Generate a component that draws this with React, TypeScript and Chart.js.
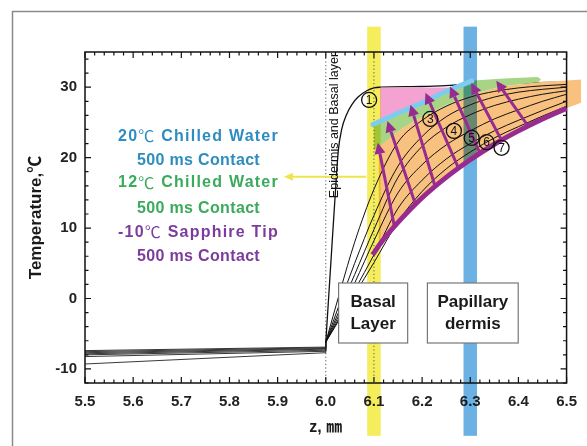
import React, { useEffect, useRef } from 'react';
import { Chart, registerables } from 'chart.js';
Chart.register(...registerables);

const FONT = "'Liberation Sans', Arial, 'Noto Sans CJK SC', sans-serif";
const CJK = "'Noto Sans CJK SC', 'Noto Sans CJK JP', sans-serif";

// ---------- axis ranges / ticks ----------
const X_MIN = 5.5, X_MAX = 6.5, Y_MIN = -12, Y_MAX = 35;
const X_STEP = 0.1, Y_STEP = 10;

// ---------- sapphire side (z < 6.0): start / end temperatures ----------
const sapphireStartT = [-7.4, -7.55, -7.7, -7.85, -8.0, -8.25, -9.3];
const sapphireEndT = [-6.9, -7.0, -7.1, -7.2, -7.35, -7.5, -7.7];
const surfaceT = -6.2;

// ---------- skin side profiles ----------
const zC1 = [6.0, 6.01, 6.02, 6.026, 6.033, 6.043, 6.055, 6.067, 6.085, 6.1, 6.115, 6.2, 6.3, 6.4, 6.5];
const tC1 = [-6.2, 4.5, 15.2, 21.0, 24.0, 26.1, 27.6, 28.6, 29.5, 29.9, 30.0, 30.1, 30.4, 30.6, 30.7];

const zFan = [6.0, 6.03, 6.06, 6.1, 6.15, 6.2, 6.25, 6.3, 6.35, 6.4, 6.45, 6.5];
const tC2 = [-6.2, 1.1, 8.0, 15.5, 22.2, 25.3, 27.3, 28.6, 29.4, 29.9, 30.2, 30.4];
const tC3 = [-6.2, -0.5, 5.0, 11.8, 18.8, 23.0, 25.8, 27.5, 28.6, 29.3, 29.7, 30.0];
const tC4 = [-6.2, -1.4, 3.4, 9.8, 17.2, 21.6, 24.3, 26.1, 27.4, 28.3, 29.0, 29.5];
const tC5 = [-6.2, -2.0, 2.2, 8.2, 15.0, 19.0, 21.8, 23.8, 25.5, 26.8, 28.0, 29.0];
const tC6 = [-6.2, -2.5, 1.2, 6.2, 12.8, 16.8, 19.8, 22.0, 23.8, 25.3, 26.7, 28.0];
const tC7 = [-6.2, -2.8, 0.6, 5.1, 10.9, 15.2, 18.4, 20.8, 22.8, 24.4, 25.9, 27.3];

// -10C sapphire tip (purple)
const zPurple = [6.097, 6.12, 6.15, 6.2, 6.25, 6.3, 6.35, 6.4, 6.45, 6.5, 6.53];
const tPurple = [6.2, 8.4, 10.8, 14.3, 17.2, 19.7, 21.9, 23.8, 25.5, 27.0, 27.8];

// 20C chilled water (light blue)
const zLightBlue = [6.098, 6.15, 6.2, 6.25, 6.303];
const tLightBlue = [24.7, 26.3, 27.8, 29.4, 30.9];

// 12C chilled water band (green)
const zGreenTop = [6.1, 6.2, 6.3, 6.37, 6.44, 6.447];
const tGreenTop = [24.6, 27.8, 30.9, 31.25, 31.45, 31.1];
const zGreenBottom = [6.1, 6.16, 6.2, 6.255, 6.3, 6.365, 6.44];
const tGreenBottom = [21.0, 24.2, 25.8, 27.6, 28.9, 30.1, 30.7];

// orange region
const zOrangeTop = [6.11, 6.16, 6.2, 6.255, 6.3, 6.365, 6.44, 6.5, 6.53];
const tOrangeTop = [21.6, 24.2, 25.8, 27.6, 28.9, 30.1, 30.7, 30.95, 31.1];
const zOrangeBottom = [6.11, 6.12, 6.15, 6.2, 6.25, 6.3, 6.35, 6.4, 6.45, 6.5, 6.53];
const tOrangeBottom = [7.4, 8.4, 10.8, 14.3, 17.2, 19.7, 21.9, 23.8, 25.5, 27.0, 27.8];

// pink triangle
const zPink = [6.113, 6.27, 6.113];
const tPink = [29.95, 29.95, 24.9];

// purple arrows
const zArrowTail = [6.142, 6.186, 6.227, 6.275, 6.319, 6.364, 6.419];
const tArrowTail = [10.4, 13.4, 15.9, 18.6, 20.8, 22.6, 24.6];
const zArrowHead = [6.108, 6.128, 6.176, 6.207, 6.258, 6.302, 6.354];
const tArrowHead = [22.1, 25.2, 27.5, 29.2, 30.1, 30.6, 30.9];

// circled curve numbers
const curveNumbers = ['1', '3', '4', '5', '6', '7'];
const zCurveNumber = [6.09, 6.217, 6.266, 6.303, 6.334, 6.365];
const tCurveNumber = [28.2, 25.5, 23.8, 22.8, 22.2, 21.4];

// ---------- annotation layout ----------
const BANDS = [
  { z0: 6.086, z1: 6.114, color: '#f4ed5c' },
  { z0: 6.286, z1: 6.314, color: '#6cb1e3' },
];
const BAND_TOP_T = 38.6, BAND_BOTTOM_T = -19.5;
const DOT_LINES_Z = [6.0, 6.1];

const NOTE_Z = 5.7357;
const NOTES = [
  { parts: ['20', '\u2103', ' Chilled Water'], color: '#2d8dc0', t: 23.05, width: 161 },
  { parts: ['500 ms Contact'], color: '#2d8dc0', t: 19.6, width: 123 },
  { parts: ['12', '\u2103', ' Chilled Water'], color: '#3aab5b', t: 16.4, width: 161 },
  { parts: ['500 ms Contact'], color: '#3aab5b', t: 12.8, width: 123 },
  { parts: ['-10', '\u2103', ' Sapphire Tip'], color: '#7b3c9e', t: 9.4, width: 161 },
  { parts: ['500 ms Contact'], color: '#7b3c9e', t: 5.95, width: 123 },
];
const BOXES = [
  { z0: 6.0266, z1: 6.170, t0: 2.2, t1: -6.32, lines: ['Basal', 'Layer'] },
  { z0: 6.211, z1: 6.3996, t0: 2.2, t1: -6.32, lines: ['Papillary', 'dermis'] },
];
const YELLOW_ARROW = { z0: 6.084, z1: 5.913, t: 17.29 };
const ROT_LABEL = { z: 6.0184, t: 24.56, text: 'Epidermis and Basal layer' };

const ORANGE = '#f9c17f', GREEN = '#a8d585', PINK = '#f3a2d2';
const LIGHT_BLUE = '#7dccef', PURPLE = '#972b8f';

function pts(zs: number[], ts: number[]) {
  return zs.map((z, i) => ({ x: z, y: ts[i] }));
}

function polygon(chart: any, zs: number[], ts: number[], zs2: number[] | null, ts2: number[] | null, color: string) {
  const { ctx, scales: { x, y } } = chart;
  ctx.beginPath();
  zs.forEach((z, i) => {
    const px = x.getPixelForValue(z), py = y.getPixelForValue(ts[i]);
    if (i === 0) ctx.moveTo(px, py); else ctx.lineTo(px, py);
  });
  if (zs2 && ts2) {
    for (let i = zs2.length - 1; i >= 0; i--) ctx.lineTo(x.getPixelForValue(zs2[i]), y.getPixelForValue(ts2[i]));
  }
  ctx.closePath();
  ctx.fillStyle = color;
  ctx.fill();
}

function drawFrame(chart: any) {
  const { ctx, chartArea: a, scales: { x, y } } = chart;
  ctx.save();
  ctx.strokeStyle = '#111';
  ctx.lineWidth = 1.5;
  ctx.strokeRect(a.left, a.top, a.right - a.left, a.bottom - a.top);
  ctx.lineWidth = 1.2;
  ctx.beginPath();
  for (let i = 0; i <= 50; i++) {
    const p = x.getPixelForValue(X_MIN + i * 0.02);
    const len = i % 5 === 0 ? 6 : 3.5;
    ctx.moveTo(p, a.bottom); ctx.lineTo(p, a.bottom - len);
    ctx.moveTo(p, a.top); ctx.lineTo(p, a.top + len);
  }
  for (let t = Y_MIN; t <= Y_MAX - 1; t += 2) {
    const p = y.getPixelForValue(t);
    const len = t % 10 === 0 ? 6 : 3.5;
    ctx.moveTo(a.left, p); ctx.lineTo(a.left + len, p);
    ctx.moveTo(a.right, p); ctx.lineTo(a.right - len, p);
  }
  ctx.stroke();
  ctx.restore();
}

function partFont(part: string) {
  return part === '\u2103' ? `16px ${CJK}` : `bold 16px ${FONT}`;
}

function drawNote(ctx: any, note: any, cx: number, cy: number) {
  ctx.letterSpacing = '0px';
  let w0 = 0, n = 0;
  note.parts.forEach((p: string) => {
    ctx.font = partFont(p);
    w0 += ctx.measureText(p).width;
    n += p.length;
  });
  const ls = Math.max(0, (note.width - w0) / n);
  let x = cx - note.width / 2;
  ctx.textAlign = 'left';
  ctx.fillStyle = note.color;
  note.parts.forEach((p: string) => {
    ctx.font = partFont(p);
    ctx.letterSpacing = '0px';
    const w = ctx.measureText(p).width;
    ctx.letterSpacing = ls.toFixed(2) + 'px';
    ctx.fillText(p, x, cy);
    x += w + ls * p.length;
  });
  ctx.letterSpacing = '0px';
  ctx.textAlign = 'center';
}

const figurePlugin = {
  id: 'figure',
  beforeDraw(chart: any) {
    const { ctx, width, height } = chart;
    ctx.save();
    ctx.fillStyle = '#fff';
    ctx.fillRect(0, 0, width, height);
    ctx.strokeStyle = '#8a8a8a';
    ctx.lineWidth = 1.5;
    ctx.beginPath();
    ctx.moveTo(12.5, height); ctx.lineTo(12.5, 11.5); ctx.lineTo(width, 11.5);
    ctx.stroke();
    ctx.restore();
  },
  beforeDatasetDraw(chart: any, args: any) {
    if (chart.data.datasets[args.index].label !== 'c2') return;
    const { ctx, scales: { x, y } } = chart;
    ctx.save();
    polygon(chart, zOrangeTop, tOrangeTop, zOrangeBottom, tOrangeBottom, ORANGE);
    polygon(chart, zGreenTop, tGreenTop, zGreenBottom, tGreenBottom, GREEN);
    polygon(chart, zPink, tPink, null, null, PINK);
    ctx.globalCompositeOperation = 'multiply';
    BANDS.forEach((b) => {
      const x0 = x.getPixelForValue(b.z0), x1 = x.getPixelForValue(b.z1);
      const y0 = y.getPixelForValue(BAND_TOP_T), y1 = y.getPixelForValue(BAND_BOTTOM_T);
      ctx.fillStyle = b.color;
      ctx.fillRect(x0, y0, x1 - x0, y1 - y0);
    });
    ctx.restore();
    drawFrame(chart);
  },
  afterDatasetsDraw(chart: any) {
    const { ctx, chartArea: a, scales: { x, y } } = chart;
    const X = (z: number) => x.getPixelForValue(z);
    const Y = (t: number) => y.getPixelForValue(t);
    ctx.save();

    // purple arrows
    ctx.strokeStyle = PURPLE; ctx.fillStyle = PURPLE; ctx.lineWidth = 3;
    zArrowTail.forEach((zt, i) => {
      const tx = X(zt), ty = Y(tArrowTail[i]);
      const hx = X(zArrowHead[i]), hy = Y(tArrowHead[i]);
      const ang = Math.atan2(hy - ty, hx - tx);
      const L = 11, W = 5.5;
      const bx = hx - L * Math.cos(ang), by = hy - L * Math.sin(ang);
      ctx.beginPath(); ctx.moveTo(tx, ty); ctx.lineTo(bx, by); ctx.stroke();
      ctx.beginPath();
      ctx.moveTo(hx, hy);
      ctx.lineTo(bx + W * Math.sin(ang), by - W * Math.cos(ang));
      ctx.lineTo(bx - W * Math.sin(ang), by + W * Math.cos(ang));
      ctx.closePath(); ctx.fill();
    });

    // circled numbers
    ctx.strokeStyle = '#111'; ctx.fillStyle = '#111'; ctx.lineWidth = 1.3;
    ctx.font = `12px ${FONT}`; ctx.textAlign = 'center'; ctx.textBaseline = 'middle';
    curveNumbers.forEach((n, i) => {
      const cx = X(zCurveNumber[i]), cy = Y(tCurveNumber[i]);
      ctx.beginPath(); ctx.arc(cx, cy, 7.5, 0, Math.PI * 2); ctx.stroke();
      ctx.fillText(n, cx, cy + 0.5);
    });

    // yellow arrow
    {
      const x0 = X(YELLOW_ARROW.z0), x1 = X(YELLOW_ARROW.z1), yy = Y(YELLOW_ARROW.t);
      ctx.strokeStyle = '#efe54a'; ctx.fillStyle = '#efe54a'; ctx.lineWidth = 2;
      ctx.beginPath(); ctx.moveTo(x0, yy); ctx.lineTo(x1 + 7, yy); ctx.stroke();
      ctx.beginPath(); ctx.moveTo(x1, yy); ctx.lineTo(x1 + 9, yy - 4); ctx.lineTo(x1 + 9, yy + 4); ctx.closePath(); ctx.fill();
    }

    // rotated layer label
    ctx.save();
    ctx.translate(X(ROT_LABEL.z), Y(ROT_LABEL.t));
    ctx.rotate(-Math.PI / 2);
    ctx.fillStyle = '#111';
    ctx.font = `12.5px ${FONT}`;
    ctx.fillText(ROT_LABEL.text, 0, 0);
    ctx.restore();

    // notes
    NOTES.forEach((n) => drawNote(ctx, n, X(NOTE_Z), Y(n.t)));

    // boxes
    BOXES.forEach((b) => {
      const x0 = X(b.z0), x1 = X(b.z1), y0 = Y(b.t0), y1 = Y(b.t1);
      ctx.fillStyle = '#fff';
      ctx.fillRect(x0, y0, x1 - x0, y1 - y0);
      ctx.strokeStyle = '#777'; ctx.lineWidth = 1.2;
      ctx.strokeRect(x0, y0, x1 - x0, y1 - y0);
      ctx.fillStyle = '#1a1a1a';
      ctx.font = `bold 17px ${FONT}`;
      b.lines.forEach((ln, k) => ctx.fillText(ln, (x0 + x1) / 2, y0 + 19 + k * 22));
    });

    // axis titles
    ctx.fillStyle = '#1a1a1a';
    ctx.font = `bold 17px ${FONT}`;
    ctx.save();
    ctx.translate(a.left - 49, (a.top + a.bottom) / 2);
    ctx.rotate(-Math.PI / 2);
    ctx.fillText('Temperature,\u2103', 0, 0);
    ctx.restore();
    ctx.font = `bold 16px ${FONT}`;
    ctx.fillText('z, \u339C', (a.left + a.right) / 2, a.bottom + 45);

    ctx.restore();
  },
};

function buildDatasets() {
  const base = { borderColor: '#111', borderWidth: 1, pointRadius: 0, fill: false };
  const list: any[] = [];
  list.push({ ...base, label: 'dot0', data: [{ x: DOT_LINES_Z[0], y: Y_MIN }, { x: DOT_LINES_Z[0], y: Y_MAX }], borderDash: [1.2, 2.4], borderColor: '#555', tension: 0 });
  sapphireStartT.forEach((s, i) => {
    list.push({ ...base, label: 'sap' + i, data: [{ x: X_MIN, y: s }, { x: 6.0, y: sapphireEndT[i] }, { x: 6.0, y: surfaceT }], tension: 0, borderWidth: 0.9, borderColor: '#222' });
  });
  list.push({ ...base, label: 'c1', data: pts(zC1, tC1), cubicInterpolationMode: 'monotone', borderWidth: 1.3 });
  list.push({ ...base, label: 'c2', data: pts(zFan, tC2), cubicInterpolationMode: 'monotone' });
  list.push({ ...base, label: 'dot1', data: [{ x: DOT_LINES_Z[1], y: Y_MIN }, { x: DOT_LINES_Z[1], y: Y_MAX }], borderDash: [1.2, 2.4], borderColor: '#555', tension: 0 });
  [tC3, tC4, tC5, tC6, tC7].forEach((ts, i) => {
    list.push({ ...base, label: 'c' + (i + 3), data: pts(zFan, ts), cubicInterpolationMode: 'monotone' });
  });
  list.push({ ...base, label: 'water20', data: pts(zLightBlue, tLightBlue), cubicInterpolationMode: 'monotone', borderColor: LIGHT_BLUE, borderWidth: 5, borderCapStyle: 'round' });
  list.push({ ...base, label: 'sapphire', data: pts(zPurple, tPurple), cubicInterpolationMode: 'monotone', borderColor: PURPLE, borderWidth: 5, clip: false });
  return list.map((d, i) => ({ ...d, order: list.length - i }));
}

export default function App() {
  const ref = useRef<HTMLCanvasElement>(null);
  useEffect(() => {
    const canvas = ref.current;
    if (!canvas) return;
    Chart.defaults.font.family = FONT;
    const chart = new Chart(canvas, {
      type: 'line',
      data: { datasets: buildDatasets() },
      options: {
        animation: false,
        responsive: false,
        devicePixelRatio: 1,
        layout: { padding: { top: 52, right: 14, bottom: 0, left: 0 } },
        plugins: { legend: { display: false }, tooltip: { enabled: false } },
        scales: {
          x: {
            type: 'linear', min: X_MIN, max: X_MAX,
            grid: { display: false, drawTicks: false },
            border: { display: false },
            afterFit: (s: any) => { s.height = 63; },
            ticks: {
              stepSize: X_STEP, includeBounds: false, autoSkip: false, maxRotation: 0, padding: 10,
              color: '#222', font: { size: 15, weight: 'bold' },
              callback: (v: any) => Number(v).toFixed(1),
            },
          },
          y: {
            type: 'linear', min: Y_MIN, max: Y_MAX,
            grid: { display: false, drawTicks: false },
            border: { display: false },
            afterFit: (s: any) => { s.width = 85; },
            ticks: {
              stepSize: Y_STEP, includeBounds: false, autoSkip: false, padding: 8,
              color: '#222', font: { size: 15, weight: 'bold' },
              callback: (v: any) => String(Math.round(Number(v))),
            },
          },
        },
      } as any,
      plugins: [figurePlugin],
    });
    return () => chart.destroy();
  }, []);
  return (
    <div style={{ position: 'fixed', left: 0, top: 0, width: 587, height: 446, background: '#fff' }}>
      <canvas ref={ref} width={587} height={446} style={{ display: 'block', width: 587, height: 446 }} />
    </div>
  );
}
